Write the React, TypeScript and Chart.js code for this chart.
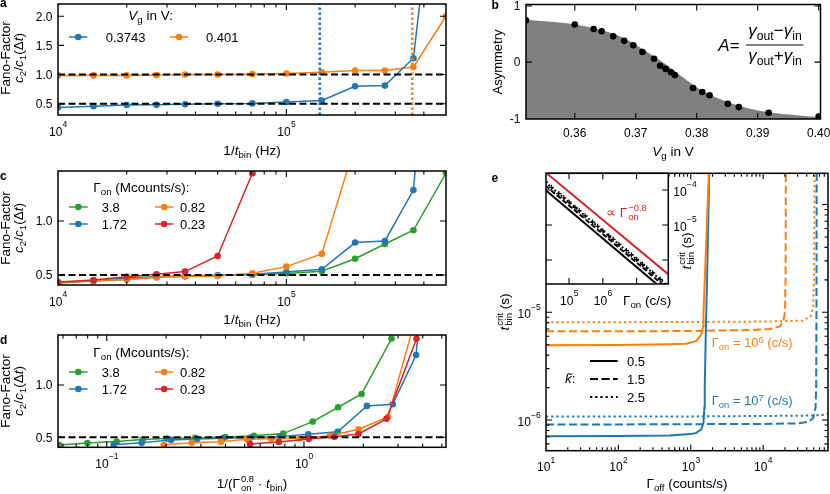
import React, { useEffect, useRef } from 'react';
import { Chart, registerables } from 'chart.js';
import type { ChartConfiguration } from 'chart.js';

Chart.register(...registerables);

const W = 830;
const H = 494;
const FONT = '"Liberation Sans", Arial, Helvetica, sans-serif';
const BLUE = '#1f77b4';
const ORANGE = '#ff7f0e';
const GREEN = '#2ca02c';
const RED = '#d62728';

// ---------- data: panel a (Fano factor vs 1/t_bin for two gate voltages) ----------
const binRates = [1e4, 1.43e4, 2e4, 2.7e4, 3.6e4, 5e4, 7.1e4, 1e5, 1.43e5, 2e5, 2.7e5, 3.6e5, 5e5];
const fanoVg03743 = [0.434, 0.455, 0.477, 0.48, 0.49, 0.5, 0.505, 0.527, 0.555, 0.8, 0.81, 1.28, 6.1];
const fanoVg0401 = [0.985, 0.985, 0.985, 0.99, 1.0, 1.0, 1.007, 1.018, 1.04, 1.068, 1.07, 1.13, 2.0];
const critRateVg03743 = 1.4e5;
const critRateVg0401 = 3.56e5;
const fanoLevels = [0.5, 1.0];

// ---------- data: panel b (asymmetry vs gate voltage) ----------
const gateV = [0.352, 0.36, 0.3631, 0.3644, 0.3663, 0.3681, 0.3696, 0.3711, 0.373, 0.374, 0.3749, 0.3758, 0.3764, 0.3794, 0.3809, 0.3821, 0.3851, 0.3869, 0.3918, 0.40];
const asymmetry = [0.745, 0.67, 0.59, 0.55, 0.46, 0.38, 0.3, 0.18, 0.06, -0.065, -0.12, -0.18, -0.23, -0.46, -0.53, -0.59, -0.74, -0.8, -0.9, -0.97];
const fitV = [0.352, 0.356, 0.36, 0.3649, 0.3682, 0.3715, 0.3748, 0.377, 0.3792, 0.3814, 0.3842, 0.3869, 0.3903, 0.3952, 0.4003];
const fitAsym = [0.756, 0.72, 0.673, 0.553, 0.417, 0.208, -0.03, -0.21, -0.387, -0.536, -0.673, -0.774, -0.863, -0.934, -0.982];

// ---------- data: panels c, d (four on-rates, Mcounts/s) ----------
const fanoOn38 = [0.426, 0.445, 0.459, 0.478, 0.487, 0.494, 0.503, 0.514, 0.535, 0.65, 0.787, 0.914, 1.444];
const fanoOn172 = [0.429, 0.447, 0.475, 0.484, 0.491, 0.497, 0.506, 0.528, 0.552, 0.8, 0.815, 1.287, 4.6];
const fanoOn082 = [0.429, 0.448, 0.458, 0.48, 0.486, 0.49, 0.515, 0.577, 0.695, 1.71, 3.2];
const fanoOn023 = [0.435, 0.454, 0.484, 0.506, 0.531, 0.676, 1.442, 3.0];
// scaled rate 1/(Γon^0.8 · t_bin)
const scaledOn38 = [0.0575, 0.0798, 0.1124, 0.152, 0.201, 0.281, 0.399, 0.558, 0.785, 1.107, 1.49, 1.96, 2.78];
const scaledOn172 = [0.1085, 0.1504, 0.212, 0.287, 0.387, 0.537, 0.753, 1.052, 1.483, 2.085, 2.82, 3.7, 5.25];
const scaledOn082 = [0.1945, 0.27, 0.379, 0.514, 0.681, 0.951, 1.355, 1.89, 2.67, 3.77, 5.3];
const scaledOn023 = [0.532, 0.745, 1.057, 1.425, 1.89, 2.62, 3.72, 5.2];

// ---------- data: panel e (critical bin time vs Γoff) ----------
const offOn6k05 = [10, 100, 500, 860, 1190, 1400, 1480, 1500, 1560, 1634, 1700, 1780, 1850];
const tOn6k05 = [4.95e-6, 4.98e-6, 5.05e-6, 5.1e-6, 5.4e-6, 6.2e-6, 7.4e-6, 1.0e-5, 2.0e-5, 4.4e-5, 9e-5, 1.95e-4, 4e-4];
const offOn6k15 = [10, 100, 1000, 7200, 12400, 17000, 19000, 20000, 20400, 20500, 20600];
const tOn6k15 = [6.65e-6, 6.66e-6, 6.7e-6, 6.85e-6, 7.0e-6, 7.4e-6, 8.3e-6, 1.0e-5, 2e-5, 6e-5, 3e-4];
const offOn6k25 = [10, 100, 1000, 1e4, 3.5e4, 4.5e4, 4.9e4, 5.05e4, 5.1e4, 5.15e4];
const tOn6k25 = [8.1e-6, 8.1e-6, 8.12e-6, 8.2e-6, 8.35e-6, 9.1e-6, 1.1e-5, 2e-5, 8e-5, 3e-4];
const offOn7k05 = [10, 100, 500, 1000, 1190, 1400, 1500, 1540, 1560, 1600, 1700, 1800];
const tOn7k05 = [7.05e-7, 7.1e-7, 7.2e-7, 7.4e-7, 7.6e-7, 8.2e-7, 9.5e-7, 1.3e-6, 2e-6, 5e-6, 3e-5, 2e-4];
const offOn7k15 = [10, 100, 1000, 1e4, 3e4, 4.2e4, 4.9e4, 5.3e4, 5.4e4, 5.45e4, 5.5e4];
const tOn7k15 = [9.1e-7, 9.1e-7, 9.15e-7, 9.2e-7, 9.3e-7, 9.6e-7, 1.04e-6, 1.3e-6, 2e-6, 1e-5, 3e-4];
const offOn7k25 = [10, 100, 1000, 1e4, 5e4, 7e4, 8e4];
const tOn7k25 = [1.08e-6, 1.08e-6, 1.08e-6, 1.09e-6, 1.1e-6, 1.12e-6, 1.15e-6];

// inset: critical bin time vs Γon
const insetOn = [2e4, 1e8];
const insetK05 = [1.0e-4, 9.6e-8];
const insetK15 = [1.34e-4, 1.29e-7];
const insetK25 = [1.66e-4, 1.6e-7];
const insetPowerLaw = [3.2e-4, 3.5e-7];
const insetSimOn = [2e4, 3e4, 5e4, 7e4, 1e5, 1.5e5, 2e5, 3e5, 5e5, 7e5, 1e6, 1.5e6, 2e6, 3e6, 5e6, 7e6, 1e7, 1.5e7, 2e7, 3e7, 5e7];
const insetSimT = [1.67e-4, 1.2e-4, 7.9e-5, 6.0e-5, 4.5e-5, 3.2e-5, 2.55e-5, 1.83e-5, 1.2e-5, 9.2e-6, 6.8e-6, 4.9e-6, 3.9e-6, 2.8e-6, 1.84e-6, 1.4e-6, 1.04e-6, 7.5e-7, 5.9e-7, 4.3e-7, 2.8e-7];

// ---------- frame/tick decoration (matplotlib-like inward ticks) ----------
type Rect = { l: number; r: number; t: number; b: number };
type Label = { v: number; text: string; sup?: string };
type AxisDecor = { major: number[]; minor?: number[]; labels?: Label[] };
type Decor = { x: AxisDecor; y: AxisDecor; yLabelsRight?: boolean; whiteBg?: boolean };

const TICK_PX = 12;
const SUP_PX = 8.5;

function frameDecor(decor: Decor) {
  return {
    id: 'frameDecor',
    beforeDatasetsDraw(chart: Chart) {
      if (!decor.whiteBg) return;
      const { ctx, chartArea: a } = chart;
      ctx.save();
      ctx.fillStyle = '#fff';
      ctx.fillRect(a.left - 1, a.top, a.right - a.left + 1, a.bottom - a.top);
      ctx.restore();
    },
    afterDatasetsDraw(chart: Chart) {
      const { ctx, chartArea: a } = chart;
      const xs = chart.scales.x;
      const ys = chart.scales.y;
      ctx.save();
      ctx.strokeStyle = '#000';
      ctx.lineWidth = 1.1;
      ctx.beginPath();
      const xTick = (v: number, len: number) => {
        const p = xs.getPixelForValue(v);
        if (p < a.left + 0.8 || p > a.right - 0.8) return;
        ctx.moveTo(p, a.bottom);
        ctx.lineTo(p, a.bottom - len);
        ctx.moveTo(p, a.top);
        ctx.lineTo(p, a.top + len);
      };
      const yTick = (v: number, len: number) => {
        const p = ys.getPixelForValue(v);
        if (p < a.top + 0.8 || p > a.bottom - 0.8) return;
        ctx.moveTo(a.left, p);
        ctx.lineTo(a.left + len, p);
        ctx.moveTo(a.right, p);
        ctx.lineTo(a.right - len, p);
      };
      decor.x.major.forEach((v) => xTick(v, 6));
      (decor.x.minor || []).forEach((v) => xTick(v, 3.5));
      decor.y.major.forEach((v) => yTick(v, 6));
      (decor.y.minor || []).forEach((v) => yTick(v, 3.5));
      ctx.stroke();
      ctx.lineWidth = 1.5;
      ctx.strokeRect(a.left, a.top, a.right - a.left, a.bottom - a.top);

      ctx.fillStyle = '#000';
      ctx.textAlign = 'left';
      ctx.textBaseline = 'alphabetic';
      const widths = (l: Label) => {
        ctx.font = `${TICK_PX}px ${FONT}`;
        const w1 = ctx.measureText(l.text).width;
        ctx.font = `${SUP_PX}px ${FONT}`;
        const w2 = l.sup ? ctx.measureText(l.sup).width : 0;
        return [w1, w2];
      };
      const put = (l: Label, x0: number, base: number, w1: number) => {
        ctx.font = `${TICK_PX}px ${FONT}`;
        ctx.fillText(l.text, x0, base);
        if (l.sup) {
          ctx.font = `${SUP_PX}px ${FONT}`;
          ctx.fillText(l.sup, x0 + w1 + 0.3, base - 8.5);
        }
      };
      (decor.x.labels || []).forEach((l) => {
        const p = xs.getPixelForValue(l.v);
        const [w1, w2] = widths(l);
        put(l, p - (w1 + w2) / 2, a.bottom + (l.sup ? 20.5 : 17.5), w1);
      });
      (decor.y.labels || []).forEach((l) => {
        const p = ys.getPixelForValue(l.v);
        const [w1, w2] = widths(l);
        const base = l.sup ? p + 6 : p + 4.3;
        const x0 = decor.yLabelsRight ? a.right + 5 : a.left - 5.5 - (w1 + w2);
        put(l, x0, base, w1);
      });
      ctx.restore();
    },
  };
}

// ---------- dataset helpers ----------
function series(xs: number[], ys: number[], color: string, extra: Record<string, unknown> = {}) {
  return {
    data: ys.map((y, i) => ({ x: xs[i], y })),
    borderColor: color,
    backgroundColor: color,
    pointBackgroundColor: color,
    pointBorderWidth: 0,
    pointRadius: 3.3,
    borderWidth: 1.5,
    fill: false,
    ...extra,
  };
}

function guide(xs: number[], ys: number[], color: string, width: number, dash: number[]) {
  return {
    data: xs.map((x, i) => ({ x, y: ys[i] })),
    borderColor: color,
    borderWidth: width,
    borderDash: dash,
    pointRadius: 0,
    fill: false,
  };
}

function cfg(frame: Rect, xOpt: Record<string, unknown>, yOpt: Record<string, unknown>, datasets: unknown[], decor: Decor): ChartConfiguration {
  return {
    type: 'line',
    data: { datasets: datasets as never },
    options: {
      responsive: false,
      animation: false,
      events: [],
      layout: { padding: { left: frame.l, top: frame.t, right: W - frame.r, bottom: H - frame.b } },
      plugins: { legend: { display: false }, tooltip: { enabled: false } },
      scales: {
        x: { ...xOpt, display: false, bounds: 'data' } as never,
        y: { ...yOpt, display: false, bounds: 'data' } as never,
      },
    },
    plugins: [frameDecor(decor)],
  };
}

const DASH = [7, 3.5];
const DOT = [2.2, 3];
const DASH_E = [8, 3.5];

const FA: Rect = { l: 58, r: 446, t: 0.5, b: 115 };
const FB: Rect = { l: 526, r: 820.5, t: 4.5, b: 119 };
const FC: Rect = { l: 58, r: 446, t: 171, b: 285 };
const FD: Rect = { l: 58, r: 446, t: 335, b: 447.3 };
const FE: Rect = { l: 546, r: 828, t: 173.3, b: 450.7 };
const FI: Rect = { l: 546, r: 668.3, t: 173.3, b: 284 };

const rateMinor = [2e4, 3e4, 4e4, 5e4, 6e4, 7e4, 8e4, 9e4, 2e5, 3e5, 4e5];
const rateTicks: AxisDecor = {
  major: [1e4, 1e5],
  minor: rateMinor,
  labels: [
    { v: 1e4, text: '10', sup: '4' },
    { v: 1e5, text: '10', sup: '5' },
  ],
};
const fanoTicks = (vals: number[]): AxisDecor => ({
  major: vals,
  labels: vals.map((v) => ({ v, text: v.toFixed(1) })),
});

const buildA = () =>
  cfg(
    FA,
    { type: 'logarithmic', min: 1e4, max: 5e5 },
    { type: 'linear', min: 0.306, max: 2.21 },
    [
      guide([1e4, 5e5], [fanoLevels[0], fanoLevels[0]], '#000', 2, DASH),
      guide([1e4, 5e5], [fanoLevels[1], fanoLevels[1]], '#000', 2, DASH),
      guide([critRateVg03743, critRateVg03743], [0.306, 2.21], BLUE, 2.5, [2.5, 2.5]),
      guide([critRateVg0401, critRateVg0401], [0.306, 2.21], ORANGE, 2.5, [2.5, 2.5]),
      series(binRates, fanoVg03743, BLUE),
      series(binRates, fanoVg0401, ORANGE),
    ],
    { x: rateTicks, y: fanoTicks([0.5, 1.0, 1.5, 2.0]) }
  );

const buildB = () =>
  cfg(
    FB,
    { type: 'linear', min: 0.352, max: 0.4003 },
    { type: 'linear', min: -1.012, max: 1.027 },
    [
      series(gateV, asymmetry, '#000', { showLine: false }),
      {
        data: fitV.map((x, i) => ({ x, y: fitAsym[i] })),
        borderWidth: 0,
        borderColor: 'rgba(0,0,0,0)',
        backgroundColor: '#808080',
        pointRadius: 0,
        fill: 'start',
        cubicInterpolationMode: 'monotone',
      },
    ],
    {
      x: {
        major: [0.36, 0.37, 0.38, 0.39, 0.4],
        labels: [0.36, 0.37, 0.38, 0.39, 0.4].map((v) => ({ v, text: v.toFixed(2) })),
      },
      y: {
        major: [-1, 0, 1],
        labels: [
          { v: 1, text: '1' },
          { v: 0, text: '0' },
          { v: -1, text: '-1' },
        ],
      },
    }
  );

const buildC = () =>
  cfg(
    FC,
    { type: 'logarithmic', min: 1e4, max: 5e5 },
    { type: 'linear', min: 0.407, max: 1.463 },
    [
      guide([1e4, 5e5], [fanoLevels[0], fanoLevels[0]], '#000', 2, DASH),
      series(binRates, fanoOn023, RED),
      series(binRates, fanoOn082, ORANGE),
      series(binRates, fanoOn172, BLUE),
      series(binRates, fanoOn38, GREEN),
    ],
    { x: rateTicks, y: fanoTicks([0.5, 1.0]) }
  );

const buildD = () =>
  cfg(
    FD,
    { type: 'logarithmic', min: 0.0566, max: 5.25 },
    { type: 'linear', min: 0.404, max: 1.478 },
    [
      guide([0.0566, 5.25], [fanoLevels[0], fanoLevels[0]], '#000', 2, DASH),
      series(scaledOn023, fanoOn023, RED),
      series(scaledOn082, fanoOn082, ORANGE),
      series(scaledOn172, fanoOn172, BLUE),
      series(scaledOn38, fanoOn38, GREEN),
    ],
    {
      x: {
        major: [0.1, 1],
        minor: [0.06, 0.07, 0.08, 0.09, 0.2, 0.3, 0.4, 0.5, 0.6, 0.7, 0.8, 0.9, 2, 3, 4, 5],
        labels: [
          { v: 0.1, text: '10', sup: '\u22121' },
          { v: 1, text: '10', sup: '0' },
        ],
      },
      y: fanoTicks([0.5, 1.0]),
    }
  );

const eLine = (xs: number[], ys: number[], color: string, dash: number[]) => ({
  ...series(xs, ys, color),
  pointRadius: 0,
  borderWidth: 2,
  borderDash: dash,
});

const buildE = () =>
  cfg(
    FE,
    { type: 'logarithmic', min: 10, max: 7.87e4 },
    { type: 'logarithmic', min: 5.19e-7, max: 1.95e-4 },
    [
      eLine(offOn6k05, tOn6k05, ORANGE, []),
      eLine(offOn7k05, tOn7k05, BLUE, []),
      eLine(offOn6k15, tOn6k15, ORANGE, DASH_E),
      eLine(offOn7k15, tOn7k15, BLUE, DASH_E),
      eLine(offOn6k25, tOn6k25, ORANGE, DOT),
      eLine(offOn7k25, tOn7k25, BLUE, DOT),
    ],
    {
      x: {
        major: [10, 100, 1e3, 1e4],
        minor: [20, 30, 40, 50, 60, 70, 80, 90, 200, 300, 400, 500, 600, 700, 800, 900, 2e3, 3e3, 4e3, 5e3, 6e3, 7e3, 8e3, 9e3, 2e4, 3e4, 4e4, 5e4, 6e4, 7e4],
        labels: [
          { v: 10, text: '10', sup: '1' },
          { v: 100, text: '10', sup: '2' },
          { v: 1e3, text: '10', sup: '3' },
          { v: 1e4, text: '10', sup: '4' },
        ],
      },
      y: {
        major: [1e-6, 1e-5, 1e-4],
        minor: [6e-7, 7e-7, 8e-7, 9e-7, 2e-6, 3e-6, 4e-6, 5e-6, 6e-6, 7e-6, 8e-6, 9e-6, 2e-5, 3e-5, 4e-5, 5e-5, 6e-5, 7e-5, 8e-5, 9e-5],
        labels: [
          { v: 1e-6, text: '10', sup: '\u22126' },
          { v: 1e-5, text: '10', sup: '\u22125' },
        ],
      },
    }
  );

const buildInset = () =>
  cfg(
    FI,
    { type: 'logarithmic', min: 2.08e4, max: 8.7e7 },
    { type: 'logarithmic', min: 2.06e-7, max: 3.0e-4 },
    [
      eLine(insetOn, insetPowerLaw, RED, []),
      eLine(insetOn, insetK05, '#000', []),
      eLine(insetOn, insetK15, '#000', [5, 2.5]),
      eLine(insetOn, insetK25, '#000', [1.8, 2.2]),
      {
        ...series(insetSimOn, insetSimT, '#000'),
        showLine: false,
        pointStyle: 'cross',
        pointRadius: 2.6,
        pointBorderWidth: 1.2,
        pointBorderColor: '#000',
      },
    ],
    {
      whiteBg: true,
      yLabelsRight: true,
      x: {
        major: [1e5, 1e6, 1e7],
        labels: [
          { v: 1e5, text: '10', sup: '5' },
          { v: 1e6, text: '10', sup: '6' },
        ],
      },
      y: {
        major: [1e-6, 1e-5, 1e-4],
        labels: [
          { v: 1e-4, text: '10', sup: '\u22124' },
          { v: 1e-5, text: '10', sup: '\u22125' },
        ],
      },
    }
  );

// ---------- React ----------
function PlotCanvas({ build }: { build: () => ChartConfiguration }) {
  const ref = useRef<HTMLCanvasElement>(null);
  useEffect(() => {
    if (!ref.current) return;
    const chart = new Chart(ref.current, build());
    return () => chart.destroy();
  }, [build]);
  return <canvas ref={ref} width={W} height={H} style={{ position: 'absolute', left: 0, top: 0, width: W, height: H }} />;
}

type TxtProps = { x: number; y: number; left?: boolean; rotate?: boolean; size?: number; color?: string; bold?: boolean; children: React.ReactNode };
function Txt({ x, y, left, rotate, size = 13, color = '#000', bold, children }: TxtProps) {
  return (
    <div
      style={{
        position: 'absolute',
        left: x,
        top: y,
        transform: `translate(${left ? '0' : '-50%'}, -50%)${rotate ? ' rotate(-90deg)' : ''}`,
        fontFamily: FONT,
        fontSize: size,
        color,
        fontWeight: bold ? 700 : 400,
        lineHeight: 1,
        whiteSpace: 'nowrap',
      }}
    >
      {children}
    </div>
  );
}
const Sub = ({ children }: { children: React.ReactNode }) => <span style={{ fontSize: '0.72em', verticalAlign: '-0.3em' }}>{children}</span>;
const Sup = ({ children }: { children: React.ReactNode }) => <span style={{ fontSize: '0.72em', verticalAlign: '0.5em' }}>{children}</span>;
const It = ({ children }: { children: React.ReactNode }) => <span style={{ fontStyle: 'italic' }}>{children}</span>;
// superscript stacked above subscript, e.g. t_bin^crit
const SubSup = ({ sub, sup }: { sub: string; sup: string }) => (
  <span style={{ display: 'inline-flex', flexDirection: 'column', fontSize: '0.7em', lineHeight: 0.95, verticalAlign: '0.6em', marginLeft: 1 }}>
    <span>{sup}</span>
    <span>{sub}</span>
  </span>
);

function Handle({ x1, x2, y, color, dash, marker, width = 1.5 }: { x1: number; x2: number; y: number; color: string; dash?: string; marker?: boolean; width?: number }) {
  const w = x2 - x1;
  return (
    <svg style={{ position: 'absolute', left: x1, top: y - 5, overflow: 'visible' }} width={w} height={10}>
      <line x1={0} y1={5} x2={w} y2={5} stroke={color} strokeWidth={width} strokeDasharray={dash} />
      {marker && <circle cx={w / 2} cy={5} r={3.3} fill={color} />}
    </svg>
  );
}

const FanoTitle = ({ cy }: { cy: number }) => (
  <>
    <Txt x={6} y={cy} rotate size={13.5}>Fano-Factor</Txt>
    <Txt x={19.5} y={cy} rotate size={13.5}>
      <It>c</It>
      <Sub>2</Sub>/<It>c</It>
      <Sub>1</Sub>(Δ<It>t</It>)
    </Txt>
  </>
);

const RateLegend = ({ top }: { top: number }) => (
  <>
    <Txt x={93.3} y={top} left size={13.5}>
      Γ<Sub>on</Sub> (Mcounts/s):
    </Txt>
    <Handle x1={69} x2={87.7} y={top + 17.4} color={GREEN} marker />
    <Txt x={101.7} y={top + 17.4} left>3.8</Txt>
    <Handle x1={155} x2={173.3} y={top + 17.4} color={ORANGE} marker />
    <Txt x={180} y={top + 17.4} left>0.82</Txt>
    <Handle x1={69} x2={87.7} y={top + 35} color={BLUE} marker />
    <Txt x={101.7} y={top + 35} left>1.72</Txt>
    <Handle x1={155} x2={173.3} y={top + 35} color={RED} marker />
    <Txt x={180} y={top + 35} left>0.23</Txt>
  </>
);

export default function App() {
  return (
    <div style={{ position: 'absolute', left: 0, top: 0, width: W, height: H, background: '#fff', overflow: 'hidden' }}>
      <PlotCanvas build={buildA} />
      <PlotCanvas build={buildB} />
      <PlotCanvas build={buildC} />
      <PlotCanvas build={buildD} />
      <PlotCanvas build={buildE} />
      <PlotCanvas build={buildInset} />

      {/* panel letters */}
      <Txt x={0} y={3} left bold size={12}>a</Txt>
      <Txt x={491.5} y={5} left bold size={12}>b</Txt>
      <Txt x={0} y={175.5} left bold size={12}>c</Txt>
      <Txt x={0} y={340} left bold size={12}>d</Txt>
      <Txt x={491.5} y={178} left bold size={12}>e</Txt>

      {/* panel a */}
      <FanoTitle cy={57.5} />
      <Txt x={252} y={151.5} size={13.5}>
        1/<It>t</It>
        <Sub>bin</Sub> (Hz)
      </Txt>
      <Txt x={128.3} y={17.3} left size={13.5}>
        <It>V</It>
        <Sub>g</Sub> in V:
      </Txt>
      <Handle x1={69} x2={87.3} y={37.3} color={BLUE} marker />
      <Txt x={105.7} y={37.3} left>0.3743</Txt>
      <Handle x1={170} x2={188.3} y={37.3} color={ORANGE} marker />
      <Txt x={206} y={37.3} left>0.401</Txt>

      {/* panel b */}
      <Txt x={497} y={62} rotate size={13}>Asymmetry</Txt>
      <Txt x={673} y={153} size={13.5}>
        <It>V</It>
        <Sub>g</Sub> in V
      </Txt>
      <Txt x={729} y={45} size={17}>
        <It>A</It>=
      </Txt>
      <div
        style={{
          position: 'absolute',
          left: 775,
          top: 45,
          transform: 'translate(-50%, -50%)',
          display: 'flex',
          flexDirection: 'column',
          alignItems: 'center',
          fontFamily: FONT,
          fontSize: 17,
          lineHeight: 1.05,
          whiteSpace: 'nowrap',
        }}
      >
        <div style={{ padding: '0 2px 1px' }}>
          <It>γ</It>
          <Sub>out</Sub>−<It>γ</It>
          <Sub>in</Sub>
        </div>
        <div style={{ alignSelf: 'stretch', borderTop: '1.3px solid #000' }} />
        <div style={{ paddingTop: 2 }}>
          <It>γ</It>
          <Sub>out</Sub>+<It>γ</It>
          <Sub>in</Sub>
        </div>
      </div>

      {/* panel c */}
      <FanoTitle cy={228} />
      <Txt x={252} y={321} size={13.5}>
        1/<It>t</It>
        <Sub>bin</Sub> (Hz)
      </Txt>
      <RateLegend top={189.3} />

      {/* panel d */}
      <FanoTitle cy={391} />
      <Txt x={252} y={484} size={13.5}>
        1/(Γ<SubSup sub="on" sup="0.8" /> · <It>t</It>
        <Sub>bin</Sub>)
      </Txt>
      <RateLegend top={354.3} />

      {/* panel e */}
      <Txt x={505} y={312} rotate size={13.5}>
        <It>t</It>
        <SubSup sub="bin" sup="crit" /> (s)
      </Txt>
      <Txt x={687} y={485} size={13.5}>
        Γ<Sub>off</Sub> (counts/s)
      </Txt>
      <Txt x={687} y={251} rotate size={13.5}>
        <It>t</It>
        <SubSup sub="bin" sup="crit" /> (s)
      </Txt>
      <Txt x={623} y={301.7} left size={13.5}>
        Γ<Sub>on</Sub> (c/s)
      </Txt>
      <Txt x={606} y={213} left size={13.5} color={RED}>
        ∝ Γ<SubSup sub="on" sup="−0.8" />
      </Txt>
      <Txt x={711.7} y={344} left size={13} color={ORANGE}>
        Γ<Sub>on</Sub> = 10<Sup>6</Sup> (c/s)
      </Txt>
      <Txt x={711.7} y={401.7} left size={13} color={BLUE}>
        Γ<Sub>on</Sub> = 10<Sup>7</Sup> (c/s)
      </Txt>
      <Txt x={565} y={379.3} left size={13.5}>
        <It>k̃</It>:
      </Txt>
      <Handle x1={590} x2={617.7} y={360.7} color="#000" width={2} />
      <Txt x={627} y={360.7} left>0.5</Txt>
      <Handle x1={590} x2={617.7} y={379.3} color="#000" width={2} dash="8 3.5" />
      <Txt x={627} y={379.3} left>1.5</Txt>
      <Handle x1={590} x2={617.7} y={397.3} color="#000" width={2} dash="2.2 3" />
      <Txt x={627} y={397.3} left>2.5</Txt>
    </div>
  );
}
